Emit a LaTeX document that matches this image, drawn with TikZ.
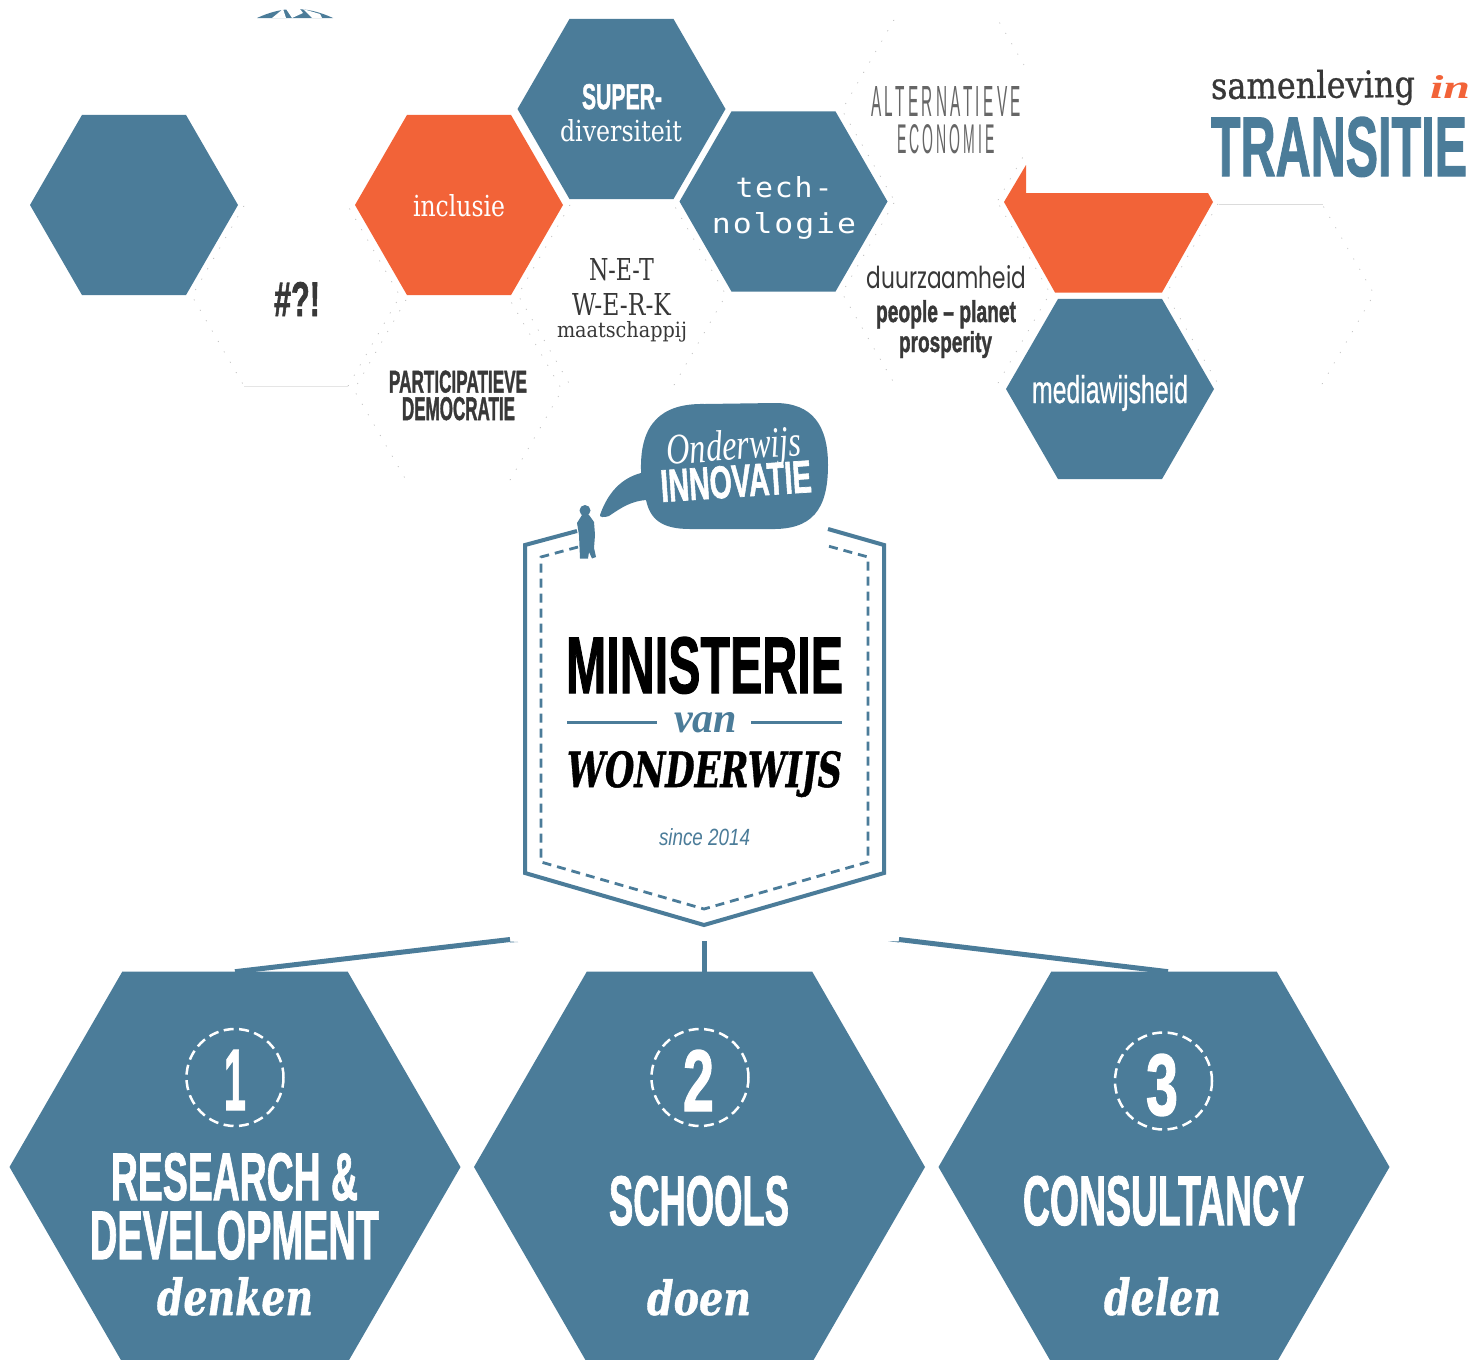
\documentclass[tikz,border=0pt]{standalone}
\usepackage{fontspec}
\usepackage{graphicx}
\usetikzlibrary{shapes.geometric}
\setmainfont{Liberation Sans}
\newfontfamily\fheavy[UprightFont=* Bold,FakeBold=1.6]{Liberation Sans}
\newfontfamily\fmed[FakeBold=0.8]{Liberation Sans}
\newfontfamily\fslab{DejaVu Serif}
\newfontfamily\fslabb[FakeBold=0.8]{DejaVu Serif}
\newfontfamily\fital[UprightFont=* Bold Italic,FakeBold=1]{DejaVu Serif}
\newfontfamily\fserif{Liberation Serif}
\newfontfamily\fmono[LetterSpace=6]{DejaVu Sans Mono}
\newfontfamily\fthin[LetterSpace=22]{Liberation Sans}
\newfontfamily\fhand{Poppins}
\definecolor{hexblue}{HTML}{4B7C99}
\definecolor{hexorange}{HTML}{F26338}
\definecolor{darktext}{HTML}{383838}
\newcommand{\fitt}[3]{\resizebox{#1pt}{#2pt}{#3}}
\newcommand{\ghostedges}[1]{\draw[ghostline] (#1.corner 2) -- (#1.corner 3) -- (#1.corner 4) (#1.corner 5) -- (#1.corner 6) -- (#1.corner 1);}
\tikzset{
  x=1pt,y=-1pt,
  hexa/.style={regular polygon,regular polygon sides=6,inner sep=0pt,outer sep=0pt,minimum size=#1},
  bluehex/.style={hexa=#1,fill=hexblue},
  orangehex/.style={hexa=#1,fill=hexorange},
  ghostline/.style={draw=black!30,line width=0.6pt,dash pattern=on 1pt off 11pt},
  lab/.style={anchor=base,inner sep=0pt,outer sep=0pt},
  linkline/.style={draw=hexblue,line width=5pt},
  badgeline/.style={draw=hexblue,line width=4pt,miter limit=10},
  badgedash/.style={draw=hexblue,line width=2.8pt,dash pattern=on 9pt off 6pt},
  ruleline/.style={draw=hexblue,line width=2.4pt},
  numring/.style={circle,draw=white,line width=2.5pt,dash pattern=on 10pt off 5.5pt,minimum size=97pt,inner sep=0pt}
}
\begin{document}
\begin{tikzpicture}
\path[use as bounding box,clip] (0,0) rectangle (1476,1360);
\fill[white] (0,0) rectangle (1476,1360);

% top gear fragment
\fill[hexblue] (257,18) .. controls (270,12) and (282,9) .. (295,9) .. controls (308,9) and (320,12) .. (333,18) -- cycle;
\fill[white] (272,18) -- (283,9) -- (286,18) -- cycle;
\fill[white] (292,18) -- (286,9) -- (300,9) -- (303,13) -- cycle;
\fill[white] (312,18) -- (303,9) -- (320,14) -- (322,18) -- cycle;

% ghost hexagons
\node[hexa=208pt] (hash) at (296,296) {};
\node[hexa=208pt] (part) at (458,390) {};
\node[hexa=208pt] (werk) at (622,295) {};
\node[hexa=208pt] (alt)  at (946,110) {};
\node[hexa=208pt] (duur) at (946,293) {};
\node[hexa=208pt] (free) at (1270,294) {};
\ghostedges{hash}
\ghostedges{part}
\ghostedges{werk}
\ghostedges{alt}
\ghostedges{duur}
\ghostedges{free}
\draw[black!10,line width=1pt] (hash.corner 4) -- (hash.corner 5);
\fill[white] (1026,0) rectangle (1210,193);
\draw[black!14,line width=1pt] (1219,204.5) -- (1323,204.5);

% filled hexagons
\node[bluehex=208pt] (left) at (134,205) {};
\node[orangehex=208pt] (incl) at (459,205) {};
\node[bluehex=208pt] (sup) at (621.5,109) {};
\node[bluehex=208pt] (tech) at (783.5,201.5) {};
\node[bluehex=208pt] (media) at (1110,389) {};
\fill[hexorange] (1026,165) -- (1004,202) -- (1055,292.5) -- (1162,292.5) -- (1213,202) -- (1208,193) -- (1026,193) -- cycle;

% hexagon labels, top
\node[lab,white] (l1) at (622,109) {\fitt{80}{25}{\fheavy SUPER-}};
\node[lab,white] (l2) at (621,141) {\fitt{122}{22}{\fslab diversiteit}};
\node[lab,white] (l3) at (459,216) {\fitt{92}{22}{\fslab inclusie}};
\node[lab,white] (l4) at (784,197) {\fitt{97}{21}{\fmono tech-}};
\node[lab,white] (l5) at (784,233) {\fitt{144}{21}{\fmono nologie}};
\node[lab,darktext] (l6) at (621.5,280) {\fitt{65}{22}{\fslab N-E-T}};
\node[lab,darktext] (l7) at (621.5,315) {\fitt{99}{22}{\fslab W-E-R-K}};
\node[lab,darktext] (l8) at (622,337) {\fitt{130}{16}{\fslab maatschappij}};
\node[lab,darktext] (l9) at (297,316) {\fitt{46}{34}{\fheavy \#?!}};
\node[lab,darktext] (l10) at (458,392.5) {\fitt{138}{22}{\fheavy PARTICIPATIEVE}};
\node[lab,darktext] (l11) at (458.5,420) {\fitt{113}{23}{\fheavy DEMOCRATIE}};
\node[lab,black!60] (l12) at (946,116) {\fitt{150}{30}{\fthin ALTERNATIEVE}};
\node[lab,black!60] (l13) at (946,153) {\fitt{98}{29}{\fthin ECONOMIE}};
\node[lab,darktext] (l14) at (946.5,288) {\fitt{159}{23}{\fhand duurzaamheid}};
\node[lab,darktext] (l15) at (946,322) {\fitt{140}{22}{\fheavy people – planet}};
\node[lab,darktext] (l16) at (945.5,352) {\fitt{93}{21}{\fheavy prosperity}};
\node[lab,white] (l17) at (1110,403) {\fitt{156}{28}{\fmed mediawijsheid}};

% title upper right
\node[lab,darktext] (t1) at (1313,99) {\rotatebox{0.6}{\fitt{204}{28}{\fslabb samenleving}}};
\node[lab,hexorange] (t2) at (1450,98) {\fitt{40}{23}{\fserif\bfseries\itshape in}};
\node[lab,hexblue] (t3) at (1339,176) {\fitt{256}{59}{\fheavy TRANSITIE}};

% speech bubble
\fill[hexblue] (641,470)
  .. controls (640,425) and (660,403) .. (705,404)
  -- (775,403)
  .. controls (812,403) and (828,425) .. (828,465)
  .. controls (828,510) and (812,530) .. (770,529)
  -- (690,529)
  .. controls (660,529) and (650,518) .. (646,500)
  .. controls (632,501) and (622,507) .. (609,516)
  .. controls (604,518) and (599,517) .. (600,515)
  .. controls (608,492) and (622,478) .. (641,473)
  -- cycle;
\node[lab,white,rotate=4] (b1) at (735,460) {\fitt{135}{30}{\fserif\itshape Onderwijs}};
\node[lab,white,rotate=3.8] (b2) at (737,497) {\fitt{151}{32}{\fheavy INNOVATIE}};

% badge
\draw[badgeline] (577,531) -- (525,545) -- (525,873) -- (704,925) -- (884,873) -- (884,545) -- (828,529);
\draw[badgedash] (578,547) -- (541,557) -- (541,862) -- (704,909) -- (868,862) -- (868,557) -- (828,546);

% figure
\fill[hexblue] (585,510.5) circle (5.5pt);
\fill[hexblue] (582,515) -- (589,515) -- (594,522) -- (595,535) -- (594,548) -- (596,557) -- (592,558.5) -- (589,552) -- (588,558.5) -- (580,558.5) -- (579,535) -- (577,523) -- cycle;

\node[lab,black] (m1) at (704.5,693) {\fitt{277}{56}{\fheavy MINISTERIE}};
\coordinate (ra) at (567,722.5);
\coordinate (rb) at (657,722.5);
\coordinate (rc) at (751,722.5);
\coordinate (rd) at (842,722.5);
\draw[ruleline] (ra) -- (rb);
\draw[ruleline] (rc) -- (rd);
\node[lab,hexblue] (m2) at (705.5,732) {\fitt{63}{20}{\fserif\bfseries\itshape van}};
\node[lab,black] (m3) at (704.5,787) {\fitt{275}{36}{\fital WONDERWIJS}};
\node[lab,hexblue] (m4) at (704.5,845) {\fitt{91}{17}{\itshape since 2014}};

% bottom hexagons
\coordinate (cl) at (510,939.5);
\coordinate (cm) at (704,941);
\coordinate (cr) at (899,939.5);
\node[bluehex=451pt] (r1) at (235,1167) {};
\node[bluehex=451pt] (r2) at (699.5,1167) {};
\node[bluehex=451pt] (r3) at (1164,1167) {};
\draw[linkline] (cl) -- (r1.north);
\draw[linkline] (cm) -- (704,972);
\draw[linkline] (cr) -- ([xshift=4pt]r3.north);
\fill[hexblue] (510,941.5) -- (518,942) -- (510,942.5) -- cycle;
\fill[hexblue] (899,941.5) -- (888,941) -- (899,942.5) -- cycle;

\node[numring] (n1) at (235,1077.5) {};
\node[numring] (n2) at (700,1077.5) {};
\node[numring] (n3) at (1163.5,1081) {};
\node[lab,white] (d1) at (235,1110) {\fitt{22}{60}{\fheavy 1}};
\node[lab,white] (d2) at (698.5,1111) {\fitt{31}{61}{\fheavy 2}};
\node[lab,white] (d3) at (1162,1115) {\fitt{32}{61}{\fheavy 3}};

\node[lab,white] (e1) at (234.5,1200) {\fitt{247}{47}{\fheavy RESEARCH \&}};
\node[lab,white] (e2) at (234.5,1259) {\fitt{289}{48}{\fheavy DEVELOPMENT}};
\node[lab,white] (e3) at (235,1315) {\fitt{156}{38}{\fital denken}};
\node[lab,white] (e4) at (699,1225) {\fitt{180}{49}{\fheavy SCHOOLS}};
\node[lab,white] (e5) at (699,1315) {\fitt{104}{36}{\fital doen}};
\node[lab,white] (e6) at (1163.5,1225) {\fitt{281}{49}{\fheavy CONSULTANCY}};
\node[lab,white] (e7) at (1162.5,1315) {\fitt{117}{38}{\fital delen}};
\end{tikzpicture}
\end{document}
